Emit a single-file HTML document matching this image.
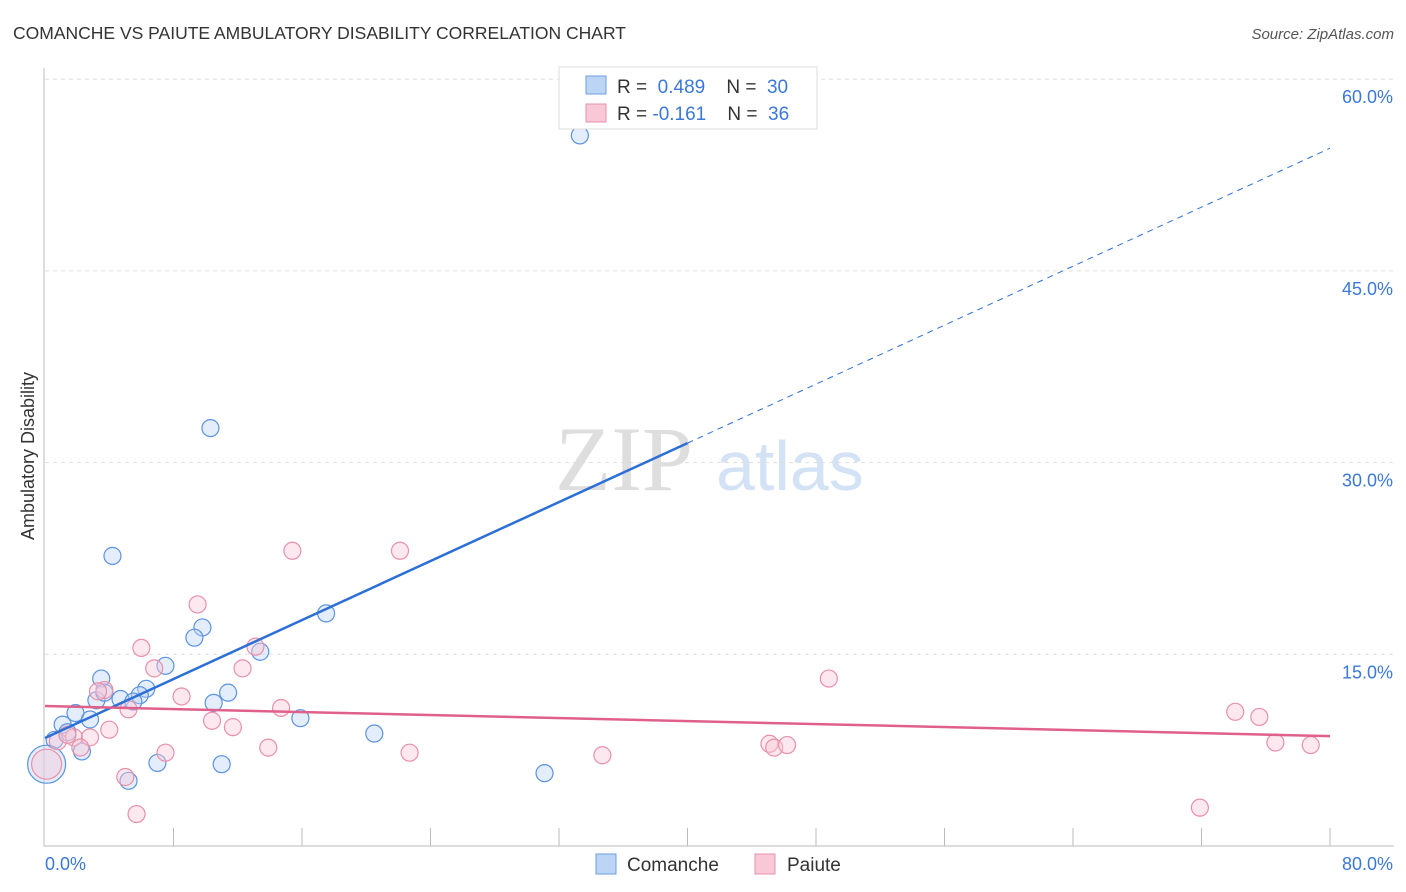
<!DOCTYPE html>
<html><head><meta charset="utf-8"><style>
body{margin:0;background:#fff;font-family:"Liberation Sans",sans-serif}
svg{display:block}
</style></head><body>
<svg id="chart" width="1406" height="892">
<text x="13" y="39" font-size="17.5" fill="#333">COMANCHE VS PAIUTE AMBULATORY DISABILITY CORRELATION CHART</text>
<text x="1394" y="39" font-size="15" fill="#555" font-style="italic" text-anchor="end">Source: ZipAtlas.com</text>
<text x="34" y="456" font-size="18" fill="#333" transform="rotate(-90 34 456)" text-anchor="middle">Ambulatory Disability</text>
<g>
<text x="555" y="490" font-size="92" fill="#dedede" font-family="Liberation Serif,serif">ZIP</text>
<text x="716" y="490" font-size="70" fill="#d3e2f5">atlas</text>
</g>
<g id="grid"></g><g id="axes"></g><g id="pts"></g><g id="trend"></g>
<g>
<rect x="559" y="67" width="258" height="62" fill="#fff" stroke="#ddd"/>
<rect x="586" y="76" width="20" height="18" fill="#bcd5f5" stroke="#6a9ee0"/>
<text x="617" y="93" font-size="19" fill="#333" xml:space="preserve">R =  <tspan fill="#3b78d8">0.489</tspan>    N =  <tspan fill="#3b78d8">30</tspan></text>
<rect x="586" y="104" width="20" height="18" fill="#f8c8d6" stroke="#e890aa"/>
<text x="617" y="120" font-size="19" fill="#333" xml:space="preserve">R = <tspan fill="#3b78d8">-0.161</tspan>    N =  <tspan fill="#3b78d8">36</tspan></text>
</g>
<g>
<rect x="596" y="854" width="20" height="20" fill="#bcd5f5" stroke="#6a9ee0"/>
<text x="627" y="871" font-size="19" fill="#333">Comanche</text>
<rect x="755" y="854" width="20" height="20" fill="#f8c8d6" stroke="#e890aa"/>
<text x="787" y="871" font-size="19" fill="#333">Paiute</text>
</g>
</svg>
<script>
const yTicks=[15,30,45,60];
const xTickLabels=["0.0%","80.0%"];
const comancheX=[33.3,10.3,4.2,17.5,9.8,9.3,13.4,7.5,3.5,6.3,11.4,5.9,4.7,3.2,5.5,3.7,10.5,1.9,15.9,1.1,2.8,20.5,1.4,0.6,2.3,7.0,11.0,31.1,5.2,0.1];
const comancheY=[55.6,32.7,22.7,18.2,17.1,16.3,15.2,14.1,13.1,12.3,12.0,11.8,11.5,11.4,11.3,12.0,11.2,10.4,10.0,9.5,9.9,8.8,8.9,8.3,7.4,6.5,6.4,5.7,5.1,6.4];
const paiuteX=[15.4,22.1,9.5,6.0,13.1,6.8,12.3,48.8,3.7,8.5,3.3,14.7,5.2,74.1,75.6,10.4,11.7,4.0,1.8,2.8,0.8,45.1,45.4,46.2,13.9,7.5,22.7,34.7,76.6,78.8,5.0,5.7,71.9,2.2,0.1,1.4];
const paiuteY=[23.1,23.1,18.9,15.5,15.6,13.9,13.9,13.1,12.2,11.7,12.1,10.8,10.7,10.5,10.1,9.8,9.3,9.1,8.5,8.5,8.2,8.0,7.7,7.9,7.7,7.3,7.3,7.1,8.1,7.9,5.4,2.5,3.0,7.7,6.4,8.7];
const comancheTrend=[8.45,54.6];
const paiuteTrend=[10.95,8.6];
const X=v=>45+v/80*1285, Y=v=>846-v/15*191.7;
const NS="http://www.w3.org/2000/svg";
function mk(p,t,a){const e=document.createElementNS(NS,t);for(const k in a)e.setAttribute(k,a[k]);document.getElementById(p).appendChild(e);return e;}
yTicks.forEach(t=>{
 const l=mk('grid','line',{x1:45,x2:1394,y1:Y(t),y2:Y(t),stroke:'#ddd','stroke-dasharray':'4,4'});
 
 
 const tx=mk('grid','text',{x:1393,y:Y(t)+24,'font-size':18,fill:'#3b78d8','text-anchor':'end'});
 tx.textContent=t.toFixed(1)+'%';
 
 
});
const ax=mk('axes','line',{x1:44,x2:44,y1:68,y2:846,stroke:'#bbb'});


const bx=mk('axes','line',{x1:44,x2:1394,y1:846,y2:846,stroke:'#bbb'});


for(let i=1;i<=10;i++){const t=mk('axes','line',{x1:X(i*8),x2:X(i*8),y1:828,y2:846,stroke:'#bbb'});
 
 }
xTickLabels.forEach((s,i)=>{const t=mk('axes','text',{x:i?1393:45,y:870,'font-size':18,fill:'#3b78d8','text-anchor':i?'end':'start'});t.textContent=s;
 
 });
function pts(xs,ys,f,s,name,bigR){xs.forEach((x,i)=>{const big=x<0.3;const c=mk('pts','circle',{cx:X(x),cy:Y(ys[i]),r:big?bigR:8.5,fill:f,'fill-opacity':0.42,stroke:s,'stroke-width':1.2});
 
 });}
pts(comancheX,comancheY,'#bcd5f5','#5b93e0','comanche-point',19);
pts(paiuteX,paiuteY,'#f8c8d6','#e890aa','paiute-point',15);
const cAt=x=>comancheTrend[0]+(comancheTrend[1]-comancheTrend[0])*x/80;
const l1=mk('trend','line',{x1:X(0),y1:Y(cAt(0)),x2:X(40),y2:Y(cAt(40)),stroke:'#2c6fd6','stroke-width':2.5});


const l2=mk('trend','line',{x1:X(40),y1:Y(cAt(40)),x2:X(80),y2:Y(cAt(80)),stroke:'#2c6fd6','stroke-width':1,'stroke-dasharray':'6,5'});


const l3=mk('trend','line',{x1:X(0),y1:Y(paiuteTrend[0]),x2:X(80),y2:Y(paiuteTrend[1]),stroke:'#e0608a','stroke-width':2.5});


</script>
</body></html>
